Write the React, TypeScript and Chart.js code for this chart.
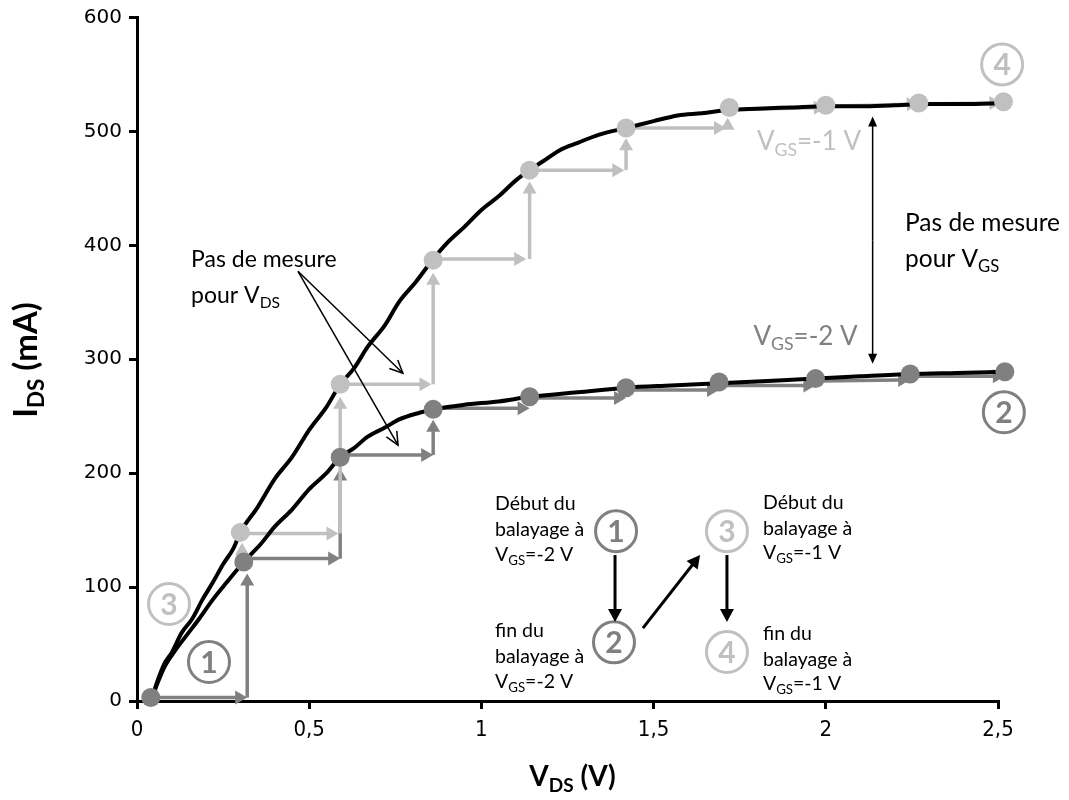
import React, { useEffect, useRef } from "react";
import { Chart, registerables } from "chart.js";

Chart.register(...registerables);

// ---------------- data ----------------
const xTickValues = [0, 0.5, 1, 1.5, 2, 2.5];
const xTickLabels = ["0", "0,5", "1", "1,5", "2", "2,5"];
const yTickValues = [0, 100, 200, 300, 400, 500, 600];
const yTickLabels = ["0", "100", "200", "300", "400", "500", "600"];

// measured black curves
const curveM1X = [0.045, 0.06, 0.08, 0.1, 0.13, 0.16, 0.19, 0.22, 0.25, 0.28, 0.3, 0.35, 0.4, 0.45, 0.5, 0.55, 0.59, 0.63, 0.67, 0.72, 0.76, 0.81, 0.86, 0.9, 0.95, 1.0, 1.05, 1.1, 1.14, 1.18, 1.23, 1.28, 1.34, 1.42, 1.5, 1.57, 1.64, 1.72, 1.8, 1.9, 2.0, 2.1, 2.2, 2.3, 2.4, 2.52];
const curveM1Y = [4, 18, 33, 42, 60, 72, 89, 104, 120, 134, 148, 170, 195, 214, 238, 258, 278, 292, 311, 330, 350, 368, 388, 402, 416, 431, 443, 457, 466, 474, 484, 490, 497, 503, 509, 514, 516, 519, 520, 521, 522, 522, 523, 524, 524, 525];
const curveM2X = [0.045, 0.06, 0.08, 0.11, 0.15, 0.18, 0.22, 0.26, 0.31, 0.36, 0.4, 0.45, 0.5, 0.55, 0.59, 0.63, 0.67, 0.72, 0.76, 0.82, 0.86, 0.95, 1.05, 1.14, 1.28, 1.42, 1.55, 1.69, 1.83, 1.97, 2.1, 2.245, 2.38, 2.52];
const curveM2Y = [4, 16, 30, 44, 60, 72, 89, 104, 122, 138, 153, 168, 186, 200, 214, 222, 232, 240, 247, 253, 256, 260, 263, 267, 271, 275, 277, 279, 281, 283, 285, 287, 288, 289];

// measurement points
const dotsM2X = [0.04, 0.31, 0.59, 0.86, 1.14, 1.42, 1.69, 1.97, 2.245, 2.52];
const dotsM2Y = [3, 122, 214, 256, 267, 275, 280, 283, 287, 289];
const dotsM1X = [0.3, 0.59, 0.86, 1.14, 1.42, 1.72, 2.0, 2.27, 2.516];
const dotsM1Y = [148, 278, 387, 466, 503, 521, 523, 525, 526];

// staircase arrows [x1, y1, x2, y2]
const stepsM2 = [
  [0.05, 3, 0.32, 3], [0.32, 3, 0.32, 112],
  [0.32, 125, 0.59, 125], [0.59, 125, 0.59, 204],
  [0.6, 216, 0.86, 216], [0.86, 216, 0.86, 247],
  [0.87, 257, 1.14, 257],
  [1.15, 266, 1.42, 266],
  [1.43, 273, 1.69, 273], [1.7, 277, 1.97, 277],
  [1.98, 281, 2.245, 282], [2.25, 285, 2.52, 285],
];
const stepsM1 = [
  [0.305, 124, 0.305, 139],
  [0.31, 147, 0.585, 147], [0.59, 147, 0.59, 267],
  [0.6, 278, 0.855, 278], [0.86, 278, 0.86, 376],
  [0.87, 388, 1.13, 388], [1.14, 388, 1.14, 456],
  [1.15, 466, 1.415, 466], [1.42, 466, 1.42, 494],
  [1.43, 503, 1.71, 503], [1.715, 503, 1.715, 512],
  [1.73, 519, 2.0, 521], [2.0, 522, 2.27, 524], [2.27, 524, 2.51, 525],
];

const DARK = "#808080";
const LIGHT = "#c0c0c0";
const TXT = "Lato, 'Open Sans', sans-serif";

type Part = { t: string; sub?: boolean };
type Note = { x: number; y: number; parts: Part[]; size: number; color: string };

const notes: Note[] = [
  { x: 0.157, y: 380.7, parts: [{ t: "Pas de mesure" }], size: 23, color: "#000" },
  { x: 0.157, y: 349.1, parts: [{ t: "pour V" }, { t: "DS", sub: true }], size: 23, color: "#000" },
  { x: 2.23, y: 412.3, parts: [{ t: "Pas de mesure" }], size: 24.5, color: "#000" },
  { x: 2.23, y: 380.7, parts: [{ t: "pour V" }, { t: "GS", sub: true }], size: 24.5, color: "#000" },
  { x: 1.8, y: 483.3, parts: [{ t: "V" }, { t: "GS", sub: true }, { t: "=-1 V" }], size: 26, color: LIGHT },
  { x: 1.79, y: 312.3, parts: [{ t: "V" }, { t: "GS", sub: true }, { t: "=-2 V" }], size: 26, color: DARK },
  { x: 1.0395, y: 167.5, parts: [{ t: "Début du" }], size: 19.5, color: "#000" },
  { x: 1.0395, y: 144.7, parts: [{ t: "balayage à" }], size: 19.5, color: "#000" },
  { x: 1.0395, y: 122.8, parts: [{ t: "V" }, { t: "GS", sub: true }, { t: "=-2 V" }], size: 19.5, color: "#000" },
  { x: 1.0395, y: 56.1, parts: [{ t: "fin du" }], size: 19.5, color: "#000" },
  { x: 1.0395, y: 33.3, parts: [{ t: "balayage à" }], size: 19.5, color: "#000" },
  { x: 1.0395, y: 11.4, parts: [{ t: "V" }, { t: "GS", sub: true }, { t: "=-2 V" }], size: 19.5, color: "#000" },
  { x: 1.8176, y: 168.4, parts: [{ t: "Début du" }], size: 19.5, color: "#000" },
  { x: 1.8176, y: 145.6, parts: [{ t: "balayage à" }], size: 19.5, color: "#000" },
  { x: 1.8176, y: 124.6, parts: [{ t: "V" }, { t: "GS", sub: true }, { t: "=-1 V" }], size: 19.5, color: "#000" },
  { x: 1.8176, y: 53.5, parts: [{ t: "fin du" }], size: 19.5, color: "#000" },
  { x: 1.8176, y: 30.7, parts: [{ t: "balayage à" }], size: 19.5, color: "#000" },
  { x: 1.8176, y: 9.6, parts: [{ t: "V" }, { t: "GS", sub: true }, { t: "=-1 V" }], size: 19.5, color: "#000" },
];

const circledLabels = ["1", "2", "3", "4", "1", "2", "3", "4"];
const circledX = [0.209, 2.517, 0.093, 2.512, 1.391, 1.385, 1.713, 1.713];
const circledY = [34.2, 253.5, 85.1, 558.8, 149.1, 51.5, 149.1, 43];
const circledColors = [DARK, DARK, LIGHT, LIGHT, DARK, DARK, LIGHT, LIGHT];

// black annotation arrows [x1,y1,x2,y2]
const legendArrows = [
  [1.388, 128.1, 1.388, 69.3],
  [1.469, 64, 1.635, 128.1],
  [1.713, 128.1, 1.713, 69.3],
];
const vdsPointerArrows = [
  [0.4675, 377.2, 0.772, 287.7],
  [0.4675, 377.2, 0.758, 224.6],
];
const vgsDoubleArrow = [2.136, 296, 2.136, 513];

// ---------------- drawing helpers ----------------
function drawRich(ctx: CanvasRenderingContext2D, parts: Part[], x: number, y: number, size: number, color: string, weight = "normal", family = TXT) {
  ctx.save();
  ctx.fillStyle = color;
  ctx.textBaseline = "alphabetic";
  ctx.textAlign = "left";
  const subSize = size * 0.68;
  let cx = x;
  for (const p of parts) {
    ctx.font = `${weight} ${p.sub ? subSize : size}px ${family}`;
    ctx.fillText(p.t, cx, y + (p.sub ? size * 0.2 : 0));
    cx += ctx.measureText(p.t).width;
  }
  ctx.restore();
}

function richWidth(ctx: CanvasRenderingContext2D, parts: Part[], size: number, weight: string, family: string) {
  let w = 0;
  for (const p of parts) {
    ctx.font = `${weight} ${p.sub ? size * 0.68 : size}px ${family}`;
    w += ctx.measureText(p.t).width;
  }
  return w;
}

function arrow(ctx: CanvasRenderingContext2D, x1: number, y1: number, x2: number, y2: number, color: string, lw: number, len: number, half: number, open = false) {
  const a = Math.atan2(y2 - y1, x2 - x1);
  const bx = x2 - len * Math.cos(a);
  const by = y2 - len * Math.sin(a);
  const px = -Math.sin(a) * half;
  const py = Math.cos(a) * half;
  ctx.save();
  ctx.strokeStyle = color;
  ctx.fillStyle = color;
  ctx.lineWidth = lw;
  ctx.lineCap = "butt";
  ctx.beginPath();
  ctx.moveTo(x1, y1);
  if (open) ctx.lineTo(x2, y2);
  else ctx.lineTo(bx + Math.cos(a) * 1, by + Math.sin(a) * 1);
  ctx.stroke();
  ctx.beginPath();
  if (open) {
    ctx.moveTo(bx + px, by + py);
    ctx.lineTo(x2, y2);
    ctx.lineTo(bx - px, by - py);
    ctx.stroke();
  } else {
    ctx.moveTo(x2, y2);
    ctx.lineTo(bx + px, by + py);
    ctx.lineTo(bx - px, by - py);
    ctx.closePath();
    ctx.fill();
  }
  ctx.restore();
}

const overlay = {
  id: "overlay",
  beforeDatasetsDraw(chart: any) {
    const ctx = chart.ctx as CanvasRenderingContext2D;
    const xs = chart.scales.x;
    const ys = chart.scales.y;
    const drawSteps = (steps: number[][], color: string) => {
      for (const s of steps) {
        arrow(ctx, xs.getPixelForValue(s[0]), ys.getPixelForValue(s[1]), xs.getPixelForValue(s[2]), ys.getPixelForValue(s[3]), color, 3.5, 12, 7);
      }
    };
    drawSteps(stepsM2, DARK);
    drawSteps(stepsM1, LIGHT);
  },
  afterDatasetsDraw(chart: any) {
    const ctx = chart.ctx as CanvasRenderingContext2D;
    const xs = chart.scales.x;
    const ys = chart.scales.y;
    const X = (v: number) => xs.getPixelForValue(v);
    const Y = (v: number) => ys.getPixelForValue(v);

    for (const n of notes) drawRich(ctx, n.parts, X(n.x), Y(n.y), n.size, n.color);

    for (let i = 0; i < circledLabels.length; i++) {
      const cx = X(circledX[i]);
      const cy = Y(circledY[i]);
      ctx.save();
      ctx.strokeStyle = circledColors[i];
      ctx.lineWidth = 3;
      ctx.beginPath();
      ctx.arc(cx, cy, 20.5, 0, Math.PI * 2);
      ctx.stroke();
      ctx.fillStyle = circledColors[i];
      ctx.font = `bold 30px ${TXT}`;
      ctx.textAlign = "center";
      ctx.textBaseline = "middle";
      ctx.fillText(circledLabels[i], cx, cy + 1);
      ctx.restore();
    }

    for (const a of legendArrows) arrow(ctx, X(a[0]), Y(a[1]), X(a[2]), Y(a[3]), "#000", 3, 13, 7);
    for (const a of vdsPointerArrows) arrow(ctx, X(a[0]), Y(a[1]), X(a[2]), Y(a[3]), "#000", 1.5, 13, 6, true);
    {
      const a = vgsDoubleArrow;
      const mx = (Y(a[1]) + Y(a[3])) / 2;
      arrow(ctx, X(a[0]), mx, X(a[2]), Y(a[1]), "#000", 1.5, 10, 4.5);
      arrow(ctx, X(a[0]), mx, X(a[2]), Y(a[3]), "#000", 1.5, 10, 4.5);
    }

    // axis titles
    const xt: Part[] = [{ t: "V" }, { t: "DS", sub: true }, { t: " (V)" }];
    const xw = richWidth(ctx, xt, 28, "bold", TXT);
    drawRich(ctx, xt, (chart.chartArea.left + chart.chartArea.right) / 2 - xw / 2 + 5, 778, 28, "#000", "bold");
    const yt: Part[] = [{ t: "I" }, { t: "DS", sub: true }, { t: " (mA)" }];
    const yw = richWidth(ctx, yt, 33, "bold", TXT);
    ctx.save();
    ctx.translate(29, 352);
    ctx.rotate(-Math.PI / 2);
    drawRich(ctx, yt, -yw / 2, 0, 33, "#000", "bold");
    ctx.restore();
  },
};

export default function App() {
  const ref = useRef<HTMLCanvasElement>(null);
  useEffect(() => {
    const toPts = (xs: number[], ys: number[]) => xs.map((x, i) => ({ x, y: ys[i] }));
    const chart = new Chart(ref.current!, {
      type: "scatter",
      data: {
        datasets: [
          { data: toPts(dotsM1X, dotsM1Y), backgroundColor: LIGHT, borderWidth: 0, pointRadius: 9.5, showLine: false, clip: false } as any,
          { data: toPts(dotsM2X, dotsM2Y), backgroundColor: DARK, borderWidth: 0, pointRadius: 9.5, showLine: false, clip: false } as any,
          { data: toPts(curveM1X, curveM1Y), borderColor: "#000", borderWidth: 4, pointRadius: 0, showLine: true, cubicInterpolationMode: "monotone", clip: false } as any,
          { data: toPts(curveM2X, curveM2Y), borderColor: "#000", borderWidth: 4, pointRadius: 0, showLine: true, cubicInterpolationMode: "monotone", clip: false } as any,
        ],
      },
      options: {
        animation: false,
        responsive: true,
        maintainAspectRatio: false,
        layout: { padding: { left: 0, top: 9, right: 63, bottom: 0 } },
        plugins: { legend: { display: false }, tooltip: { enabled: false }, title: { display: false } },
        events: [],
        scales: {
          x: {
            type: "linear",
            min: 0,
            max: 2.5,
            afterBuildTicks: (s: any) => { s.ticks = xTickValues.map((v) => ({ value: v })); },
            afterFit: (s: any) => { s.height = 91; s.paddingLeft = 0; s.paddingRight = 0; },
            ticks: {
              autoSkip: false,
              maxRotation: 0,
              padding: 8,
              color: "#000",
              font: { family: "'Liberation Sans Narrow', 'DejaVu Sans Condensed', sans-serif", size: 22 },
              callback: (v: any) => { const i = xTickValues.indexOf(Number(v)); return i >= 0 ? xTickLabels[i] : ""; },
            },
            grid: { drawOnChartArea: false, drawTicks: true, tickLength: 8, color: "#000", lineWidth: 3 },
            border: { color: "#000", width: 3 },
          },
          y: {
            type: "linear",
            min: 0,
            max: 600,
            afterBuildTicks: (s: any) => { s.ticks = yTickValues.map((v) => ({ value: v })); },
            afterFit: (s: any) => { s.width = 129; s.paddingTop = 0; s.paddingBottom = 0; },
            ticks: {
              autoSkip: false,
              padding: 7,
              color: "#000",
              font: { family: "'DejaVu Sans', sans-serif", size: 20, lineHeight: 0.9 },
              callback: (v: any) => { const i = yTickValues.indexOf(Number(v)); return i >= 0 ? yTickLabels[i] : ""; },
            },
            grid: { drawOnChartArea: false, drawTicks: true, tickLength: 8, color: "#000", lineWidth: 3 },
            border: { color: "#000", width: 3 },
          },
        },
      },
      plugins: [overlay],
    });
    return () => chart.destroy();
  }, []);
  return (
    <div style={{ position: "relative", width: 1053, height: 784 }}>
      <canvas ref={ref} />
    </div>
  );
}
